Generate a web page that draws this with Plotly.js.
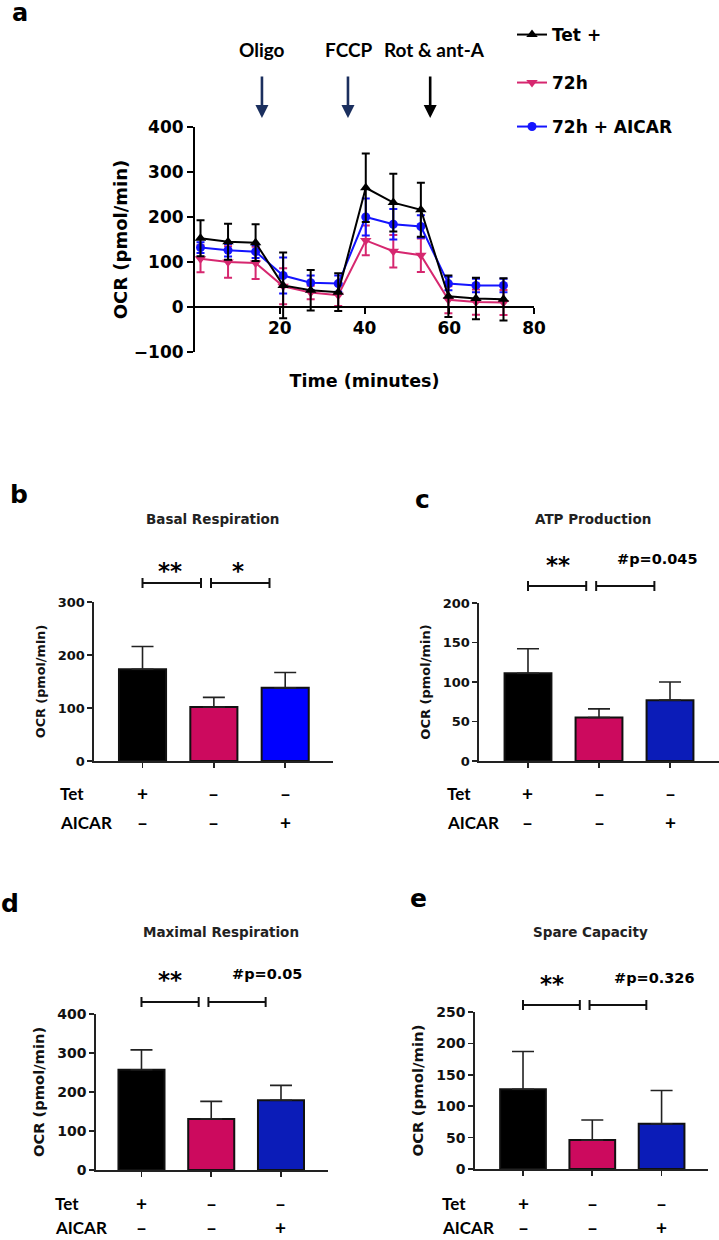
<!DOCTYPE html>
<html>
<head>
<meta charset="utf-8">
<script src="https://cdn.plot.ly/plotly-3.0.1.min.js"></script>
<style>
html,body{margin:0;padding:0;background:#fff;}
#chart{width:719px;height:1240px;}
</style>
</head>
<body>
<div id="chart"></div>
<script>
// ---------- DATA ----------
// Panel a: Seahorse time course (minutes)
const times = [1.3, 7.8, 14.3, 20.8, 27.3, 33.8, 40.3, 46.8, 53.3, 59.8, 66.3, 72.8];
const tetMean   = [153, 145, 143, 48, 37, 33, 265, 232, 216, 24, 19, 17];
const tetErr    = [40, 40, 41, 73, 45, 42, 76, 64, 60, 46, 46, 47];
const h72Mean   = [107, 100, 98, 46, 32, 26, 148, 124, 115, 16, 11, 10];
const h72Err    = [30, 35, 36, 40, 15, 24, 33, 36, 37, 30, 28, 28];
const aicarMean = [132, 126, 123, 70, 54, 52, 200, 184, 179, 52, 48, 48];
const aicarErr  = [12, 14, 14, 40, 16, 18, 41, 34, 25, 15, 15, 15];
const seriesNames = ['Tet +', '72h', '72h + AICAR'];
const injectionLabels = ['Oligo', 'FCCP', 'Rot & ant-A'];
const injectionTimes = [15.8, 36.1, 55.5];
const xTicksA = [20, 40, 60, 80];

// Panels b-e: bar summaries
const categories = ['Tet +', '72h', '72h + AICAR'];
const basal      = [173, 102, 138];
const basalErr   = [43, 18, 29];
const atp        = [111, 55, 77];
const atpErr     = [31, 11, 23];
const maximal    = [257, 131, 179];
const maximalErr = [51, 45, 38];
const spare      = [127, 46, 72];
const spareErr   = [60, 32, 53];
const tetRow   = ['+', '–', '–'];
const aicarRow = ['–', '–', '+'];

// ---------- LAYOUT HELPERS ----------
const W = 719, H = 1240;
const fx = p => p / W;
const fy = p => 1 - p / H;
const DV = 'DejaVu Sans, Arial, sans-serif';
const LATO = 'Lato, Calibri, sans-serif';
const BLACK = '#000000';
const PINK_LINE = '#d6276f';
const BLUE_LINE = '#1414ff';
const PINK_BAR = '#cc0a5e';

const traces = [];
const annotations = [];
const shapes = [];

// ---------- PANEL A ----------
function lineTrace(name, y, err, color, symbol, size, legendId) {
  return {
    type: 'scatter', mode: 'lines+markers', name: name, legend: legendId,
    x: times, y: y, xaxis: 'x', yaxis: 'y',
    line: {color: color, width: 2},
    marker: {color: color, symbol: symbol, size: size},
    error_y: {type: 'data', array: err, visible: true, color: color, thickness: 2, width: 4}
  };
}
traces.push(lineTrace(seriesNames[1], h72Mean, h72Err, PINK_LINE, 'triangle-down', 10, 'legend2'));
traces.push(lineTrace(seriesNames[2], aicarMean, aicarErr, BLUE_LINE, 'circle', 9, 'legend3'));
traces.push(lineTrace(seriesNames[0], tetMean, tetErr, BLACK, 'triangle-up', 10, 'legend'));

const aYd = [fy(352), fy(127)];
const aYr = [-100, 400];
const zeroPos = aYd[0] + (0 - aYr[0]) / (aYr[1] - aYr[0]) * (aYd[1] - aYd[0]);

const injColors = ['#1b2f5e', '#1b2f5e', '#000000'];
injectionTimes.forEach((t, i) => {
  annotations.push({xref: 'x', yref: 'paper', x: t, y: fy(118), ax: 0, ay: -43,
    text: '', showarrow: true, arrowhead: 2, arrowsize: 1, arrowwidth: 2.6, arrowcolor: injColors[i]});
});
const injLabelX = [262, 348, 434];
injectionLabels.forEach((lab, i) => {
  annotations.push({xref: 'paper', yref: 'paper', x: fx(injLabelX[i]), y: fy(50), xanchor: 'center', yanchor: 'middle',
    text: lab, showarrow: false, font: {family: LATO, size: 19, weight: 'bold', color: '#000'}});
});
annotations.push({xref: 'paper', yref: 'paper', x: fx(20), y: fy(13), xanchor: 'center', yanchor: 'middle',
  text: 'a', showarrow: false, font: {family: DV, size: 24, weight: 'bold', color: '#000'}});

const layout = {
  width: W, height: H, autosize: false,
  margin: {l: 0, r: 0, t: 0, b: 0, pad: 0},
  paper_bgcolor: '#fff', plot_bgcolor: 'rgba(0,0,0,0)',
  showlegend: true,
  bargap: 0,
  xaxis: {
    domain: [fx(195), fx(534)], range: [0, 80], anchor: 'free', position: zeroPos,
    showline: true, linewidth: 2, linecolor: '#000', ticks: 'outside', ticklen: 6, tickwidth: 2, tickcolor: '#000',
    tickvals: xTicksA, showgrid: false, zeroline: false,
    tickfont: {family: DV, size: 17, weight: 'bold', color: '#000'},
    title: {text: 'Time (minutes)', font: {family: DV, size: 17.5, weight: 'bold', color: '#000'}, standoff: 36}
  },
  yaxis: {
    domain: aYd, range: aYr, anchor: 'x', dtick: 100, tick0: 0,
    showline: true, linewidth: 2, linecolor: '#000', ticks: 'outside', ticklen: 6, tickwidth: 2, tickcolor: '#000',
    showgrid: false, zeroline: false,
    tickfont: {family: DV, size: 17, weight: 'bold', color: '#000'},
    title: {text: 'OCR (pmol/min)', font: {family: DV, size: 18, weight: 'bold', color: '#000'}, standoff: 2}
  },
  annotations: annotations,
  shapes: shapes
};

const legendBase = {xanchor: 'left', yanchor: 'middle', bgcolor: 'rgba(0,0,0,0)', borderwidth: 0,
  font: {family: DV, size: 17, weight: 'bold', color: '#000'}, itemwidth: 30};
layout.legend  = Object.assign({}, legendBase, {x: fx(512), y: fy(35)});
layout.legend2 = Object.assign({}, legendBase, {x: fx(512), y: fy(83)});
layout.legend3 = Object.assign({}, legendBase, {x: fx(512), y: fy(127)});

// ---------- PANELS B-E ----------
const barPanels = [
  {id: 2, letter: 'b', title: 'Basal Respiration', vals: basal, errs: basalErr, blue: '#0000ff',
   xd: [94, 333], yd: [602, 761], xr: [-0.68, 2.67], ymax: 300, dtick: 100, tickSize: 13, yTitleSize: 12.8,
   letterPos: [19, 494], titlePos: [213, 519],
   sig: [{t: '**', c: 0.39, star: true}, {t: '*', c: 1.34, star: true}], sigY: 565, brY: 583,
   rowX: 58, rowY: [793, 822], rowSize: 17},
  {id: 3, letter: 'c', title: 'ATP Production', vals: atp, errs: atpErr, blue: '#0b1cb8',
   xd: [479, 719], yd: [603, 761], xr: [-0.69, 2.69], ymax: 200, dtick: 50, tickSize: 13, yTitleSize: 13,
   letterPos: [422, 500], titlePos: [593, 519],
   sig: [{t: '**', c: 0.42, star: true}, {t: '#p=0.045', c: 1.83}], sigY: 559, brY: 586,
   rowX: 445, rowY: [793, 822], rowSize: 17},
  {id: 4, letter: 'd', title: 'Maximal Respiration', vals: maximal, errs: maximalErr, blue: '#0b1cb8',
   xd: [96, 328], yd: [1014, 1170], xr: [-0.652, 2.674], ymax: 400, dtick: 100, tickSize: 14, yTitleSize: 14.7,
   letterPos: [10, 903], titlePos: [221, 932],
   sig: [{t: '**', c: 0.41, star: true}, {t: '#p=0.05', c: 1.8}], sigY: 974, brY: 1002,
   rowX: 53, rowY: [1203, 1227], rowSize: 17},
  {id: 5, letter: 'e', title: 'Spare Capacity', vals: spare, errs: spareErr, blue: '#0b1cb8',
   xd: [475, 708], yd: [1012, 1169], xr: [-0.693, 2.67], ymax: 250, dtick: 50, tickSize: 14, yTitleSize: 14.9,
   letterPos: [418, 898], titlePos: [590, 932],
   sig: [{t: '**', c: 0.42, star: true}, {t: '#p=0.326', c: 1.9}], sigY: 978, brY: 1005,
   rowX: 440, rowY: [1203, 1227], rowSize: 17}
];
const bracketSpans = [[0, 0.82], [0.96, 1.78]];

barPanels.forEach(p => {
  const xa = 'x' + p.id, ya = 'y' + p.id;
  traces.push({
    type: 'bar', x: categories, y: p.vals, xaxis: xa, yaxis: ya, width: 0.66, showlegend: false,
    marker: {color: [BLACK, PINK_BAR, p.blue], line: {color: '#111', width: 2}},
    error_y: {type: 'data', symmetric: false, array: p.errs, arrayminus: p.errs.map(() => 0),
      visible: true, color: '#222', thickness: 1.6, width: 11}
  });
  layout['xaxis' + p.id] = {
    domain: [fx(p.xd[0]), fx(p.xd[1])], range: p.xr, anchor: ya, type: 'category',
    showline: true, linewidth: 1.6, linecolor: '#222', ticks: 'outside', ticklen: 5, tickwidth: 1.6, tickcolor: '#222',
    showticklabels: false, showgrid: false, zeroline: false
  };
  layout['yaxis' + p.id] = {
    domain: [fy(p.yd[1]), fy(p.yd[0])], range: [0, p.ymax], anchor: xa, dtick: p.dtick, tick0: 0,
    showline: true, linewidth: 1.6, linecolor: '#222', ticks: 'outside', ticklen: 5, tickwidth: 1.6, tickcolor: '#222',
    showgrid: false, zeroline: false,
    tickfont: {family: DV, size: p.tickSize, weight: 'bold', color: '#111'},
    title: {text: 'OCR (pmol/min)', font: {family: DV, size: p.yTitleSize, weight: 'bold', color: '#111'}, standoff: 9}
  };
  annotations.push({xref: 'paper', yref: 'paper', x: fx(p.letterPos[0]), y: fy(p.letterPos[1]), xanchor: 'center', yanchor: 'middle',
    text: p.letter, showarrow: false, font: {family: DV, size: 25, weight: 'bold', color: '#000'}});
  annotations.push({xref: 'paper', yref: 'paper', x: fx(p.titlePos[0]), y: fy(p.titlePos[1]), xanchor: 'center', yanchor: 'middle',
    text: p.title, showarrow: false, font: {family: DV, size: 13.5, weight: 'bold', color: '#222'}});
  p.sig.forEach(s => {
    annotations.push({xref: xa, yref: 'paper', x: s.c, y: fy(p.sigY + (s.star ? 6 : 0)), xanchor: 'center', yanchor: 'middle',
      text: s.t, showarrow: false, font: {family: DV, size: s.star ? 23 : 14.5, weight: 'bold', color: '#000'}});
  });
  bracketSpans.forEach(sp => {
    const lineStyle = {color: '#111', width: 2};
    shapes.push({type: 'line', xref: xa, yref: 'paper', x0: sp[0], x1: sp[1], y0: fy(p.brY), y1: fy(p.brY), line: lineStyle});
    shapes.push({type: 'line', xref: xa, yref: 'paper', x0: sp[0], x1: sp[0], y0: fy(p.brY - 5), y1: fy(p.brY + 5), line: lineStyle});
    shapes.push({type: 'line', xref: xa, yref: 'paper', x0: sp[1], x1: sp[1], y0: fy(p.brY - 5), y1: fy(p.brY + 5), line: lineStyle});
  });
  annotations.push({xref: 'paper', yref: 'paper', x: fx(p.rowX), y: fy(p.rowY[0]), xanchor: 'left', yanchor: 'middle',
    text: 'Tet', showarrow: false, font: {family: LATO, size: p.rowSize, weight: 'bold', color: '#000'}});
  annotations.push({xref: 'paper', yref: 'paper', x: fx(p.rowX), y: fy(p.rowY[1]), xanchor: 'left', yanchor: 'middle',
    text: 'AICAR', showarrow: false, font: {family: LATO, size: p.rowSize, weight: 'bold', color: '#000'}});
  categories.forEach((c, i) => {
    annotations.push({xref: xa, yref: 'paper', x: i, y: fy(p.rowY[0]), xanchor: 'center', yanchor: 'middle',
      text: tetRow[i], showarrow: false, font: {family: LATO, size: 19, weight: 'bold', color: '#000'}});
    annotations.push({xref: xa, yref: 'paper', x: i, y: fy(p.rowY[1]), xanchor: 'center', yanchor: 'middle',
      text: aicarRow[i], showarrow: false, font: {family: LATO, size: 19, weight: 'bold', color: '#000'}});
  });
});

Plotly.newPlot('chart', traces, layout, {staticPlot: true, displayModeBar: false});
</script>
</body>
</html>
